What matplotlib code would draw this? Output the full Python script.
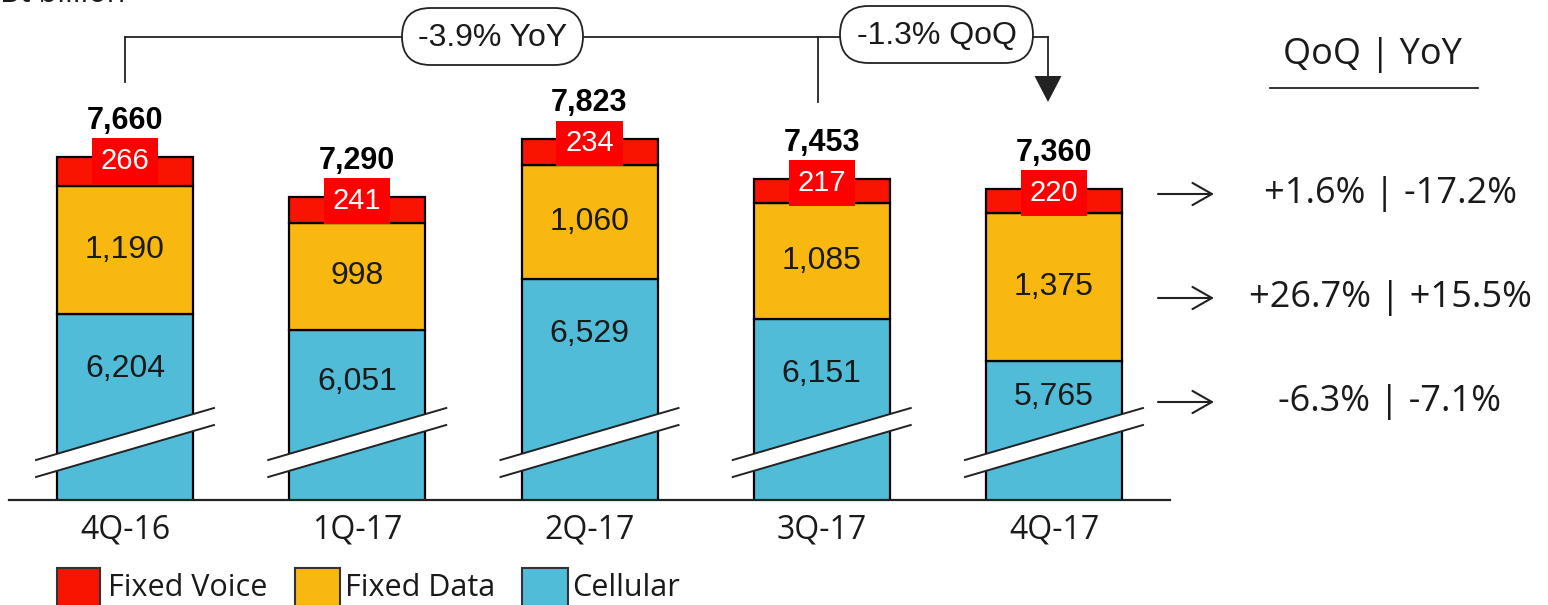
import matplotlib
matplotlib.use("Agg")
import matplotlib.pyplot as plt
from matplotlib.patches import Rectangle, FancyBboxPatch, Polygon
import numpy as np

# quarterly revenue split, Bt billion
quarters = ["4Q-16", "1Q-17", "2Q-17", "3Q-17", "4Q-17"]
cellular = [6204, 6051, 6529, 6151, 5765]
fixed_data = [1190, 998, 1060, 1085, 1375]
fixed_voice = [266, 241, 234, 217, 220]

segments = ["Fixed Voice", "Fixed Data", "Cellular"]
seg_changes = ["+1.6% | -17.2%", "+26.7% | +15.5%", "-6.3% | -7.1%"]
change_header = "QoQ | YoY"
yoy_label = "-3.9% YoY"
qoq_label = "-1.3% QoQ"
unit_label = "Bt billion"

W, H = 1548, 605
C_VOICE = "#f81400"
C_DATA = "#f8b810"
C_CELL = "#50bcd8"
C_TAG = "#ff0000"
INK = "#1a1a1a"
ARIAL = ["Liberation Sans", "DejaVu Sans"]
SEGOE = ["Open Sans", "DejaVu Sans"]

plt.rcParams["font.family"] = ARIAL

BASE = 4470      # value sitting on the broken baseline
UPP = 9.30       # value units per pixel
BASE_PX = 500    # baseline position, px from top
STEP = 232.25    # px between bar centres
X0_PX = 125      # px of first bar centre


def yv(px):
    # pixel row (from top) -> value
    return BASE + (BASE_PX - px) * UPP


def dy(px):
    return px * UPP


def dx(px):
    return px / STEP


fig = plt.figure(figsize=(W / 100, H / 100), dpi=100)
ax = fig.add_axes([0, (H - BASE_PX) / H, 1, BASE_PX / H])
ax.set_xlim(-X0_PX / STEP, (W - X0_PX) / STEP)
ax.set_ylim(BASE, yv(0))
ax.axis("off")

x = np.arange(len(quarters))
cell = np.array(cellular)
data = np.array(fixed_data)
voice = np.array(fixed_voice)
total = cell + data + voice
bw = 136 / STEP

ax.bar(x, cell, bw, color=C_CELL, edgecolor="black", lw=1.6, zorder=2)
ax.bar(x, data, bw, bottom=cell, color=C_DATA, edgecolor="black", lw=1.6, zorder=2)
ax.bar(x, voice, bw, bottom=cell + data, color=C_VOICE, edgecolor="black", lw=1.6, zorder=2)

# baseline
ax.plot([-0.5, 4.5], [BASE, BASE], color="#222222", lw=1.6, clip_on=False, zorder=3)

# axis-break band across every cellular bar
brk_px = 434
for i in x:
    xl, xr = i - dx(89), i + dx(89)
    up_l, up_r = yv(brk_px + 26), yv(brk_px - 26)
    lo_l, lo_r = up_l - dy(17), up_r - dy(17)
    ax.add_patch(Polygon([(xl, up_l), (xr, up_r), (xr, lo_r), (xl, lo_l)],
                         closed=True, fc="white", ec="none", zorder=4))
    ax.plot([xl, xr], [up_l, up_r], color="#222222", lw=1.4, zorder=5)
    ax.plot([xl, xr], [lo_l, lo_r], color="#222222", lw=1.4, zorder=5)

for i in x:
    ax.text(i, total[i] + dy(28), f"{total[i]:,}", ha="center", va="baseline",
            fontsize=22, fontweight="bold", color="black", zorder=6)
    ax.text(i, total[i] - dy(4), f"{voice[i]:,}", ha="center", va="center",
            fontsize=21, color="white", zorder=6,
            bbox=dict(boxstyle="square,pad=0.3", fc=C_TAG, ec="none"))
    ax.text(i, cell[i] + data[i] / 2, f"{data[i]:,}", ha="center", va="center",
            fontsize=23, color=INK, zorder=6)
    cy = max(cell[i] - dy(55), (cell[i] + yv(brk_px)) / 2)
    ax.text(i, cy, f"{cell[i]:,}", ha="center", va="center",
            fontsize=23, color=INK, zorder=6)
    ax.text(i, yv(530), quarters[i], ha="center", va="center",
            fontsize=23, color=INK, family=SEGOE, clip_on=False)

# YoY / QoQ bracket
top_y = yv(37)
ax.plot([0, 0], [yv(82), top_y], color="#222222", lw=1.3, zorder=3)
ax.plot([0, 4 - dx(6)], [top_y, top_y], color="#222222", lw=1.3, zorder=3)
ax.plot([3 - dx(4), 3 - dx(4)], [top_y, yv(102)], color="#222222", lw=1.3, zorder=3)
ax.plot([4 - dx(6), 4 - dx(6)], [top_y, yv(78)], color="#222222", lw=1.3, zorder=3)
ax.add_patch(Polygon([(4 - dx(6) - dx(13.5), yv(76)), (4 - dx(6) + dx(13.5), yv(76)),
                      (4 - dx(6), yv(102))], closed=True, fc="#222222", ec="none", zorder=3))

# pixel-space overlay for pills, side notes and legend
ov = fig.add_axes([0, 0, 1, 1])
ov.set_xlim(0, W)
ov.set_ylim(H, 0)
ov.axis("off")


def pill(x0, y0, w, h, label):
    ov.add_patch(FancyBboxPatch((x0, y0), w, h,
                                boxstyle=f"round,pad=0,rounding_size={h / 2}",
                                fc="white", ec="#222222", lw=1.3))
    ov.text(x0 + w / 2, y0 + h / 2 + 1, label, ha="center", va="center",
            fontsize=23, color=INK)


pill(402, 8, 181, 57, yoy_label)
pill(840, 6, 193, 57, qoq_label)

ov.text(0, 2, unit_label, ha="left", va="baseline", fontsize=22, color=INK, family=SEGOE)

ov.text(1372, 55, change_header, ha="center", va="center", fontsize=26,
        color=INK, family=SEGOE)
ov.plot([1270, 1478], [88, 88], color="#222222", lw=1.3)

for yrow, lab in zip([194, 298, 402], seg_changes):
    ov.annotate("", xy=(1214, yrow), xytext=(1158, yrow),
                arrowprops=dict(arrowstyle="->,head_length=0.7,head_width=0.4",
                                lw=1.5, color="#222222", mutation_scale=20,
                                shrinkA=0, shrinkB=0))
    ov.text(1390, yrow, lab, ha="center", va="center", fontsize=26,
            color=INK, family=SEGOE)

# legend
for (lx, lw_, tx), lab, col in zip([(57, 43, 108), (295, 45, 345), (522, 46, 572)],
                                   segments, [C_VOICE, C_DATA, C_CELL]):
    ov.add_patch(Rectangle((lx, 568), lw_, 38, fc=col, ec="#333333", lw=1.5))
    ov.text(tx, 588, lab, ha="left", va="center", fontsize=22, color=INK, family=SEGOE)

fig.savefig("out.png", dpi=100)
